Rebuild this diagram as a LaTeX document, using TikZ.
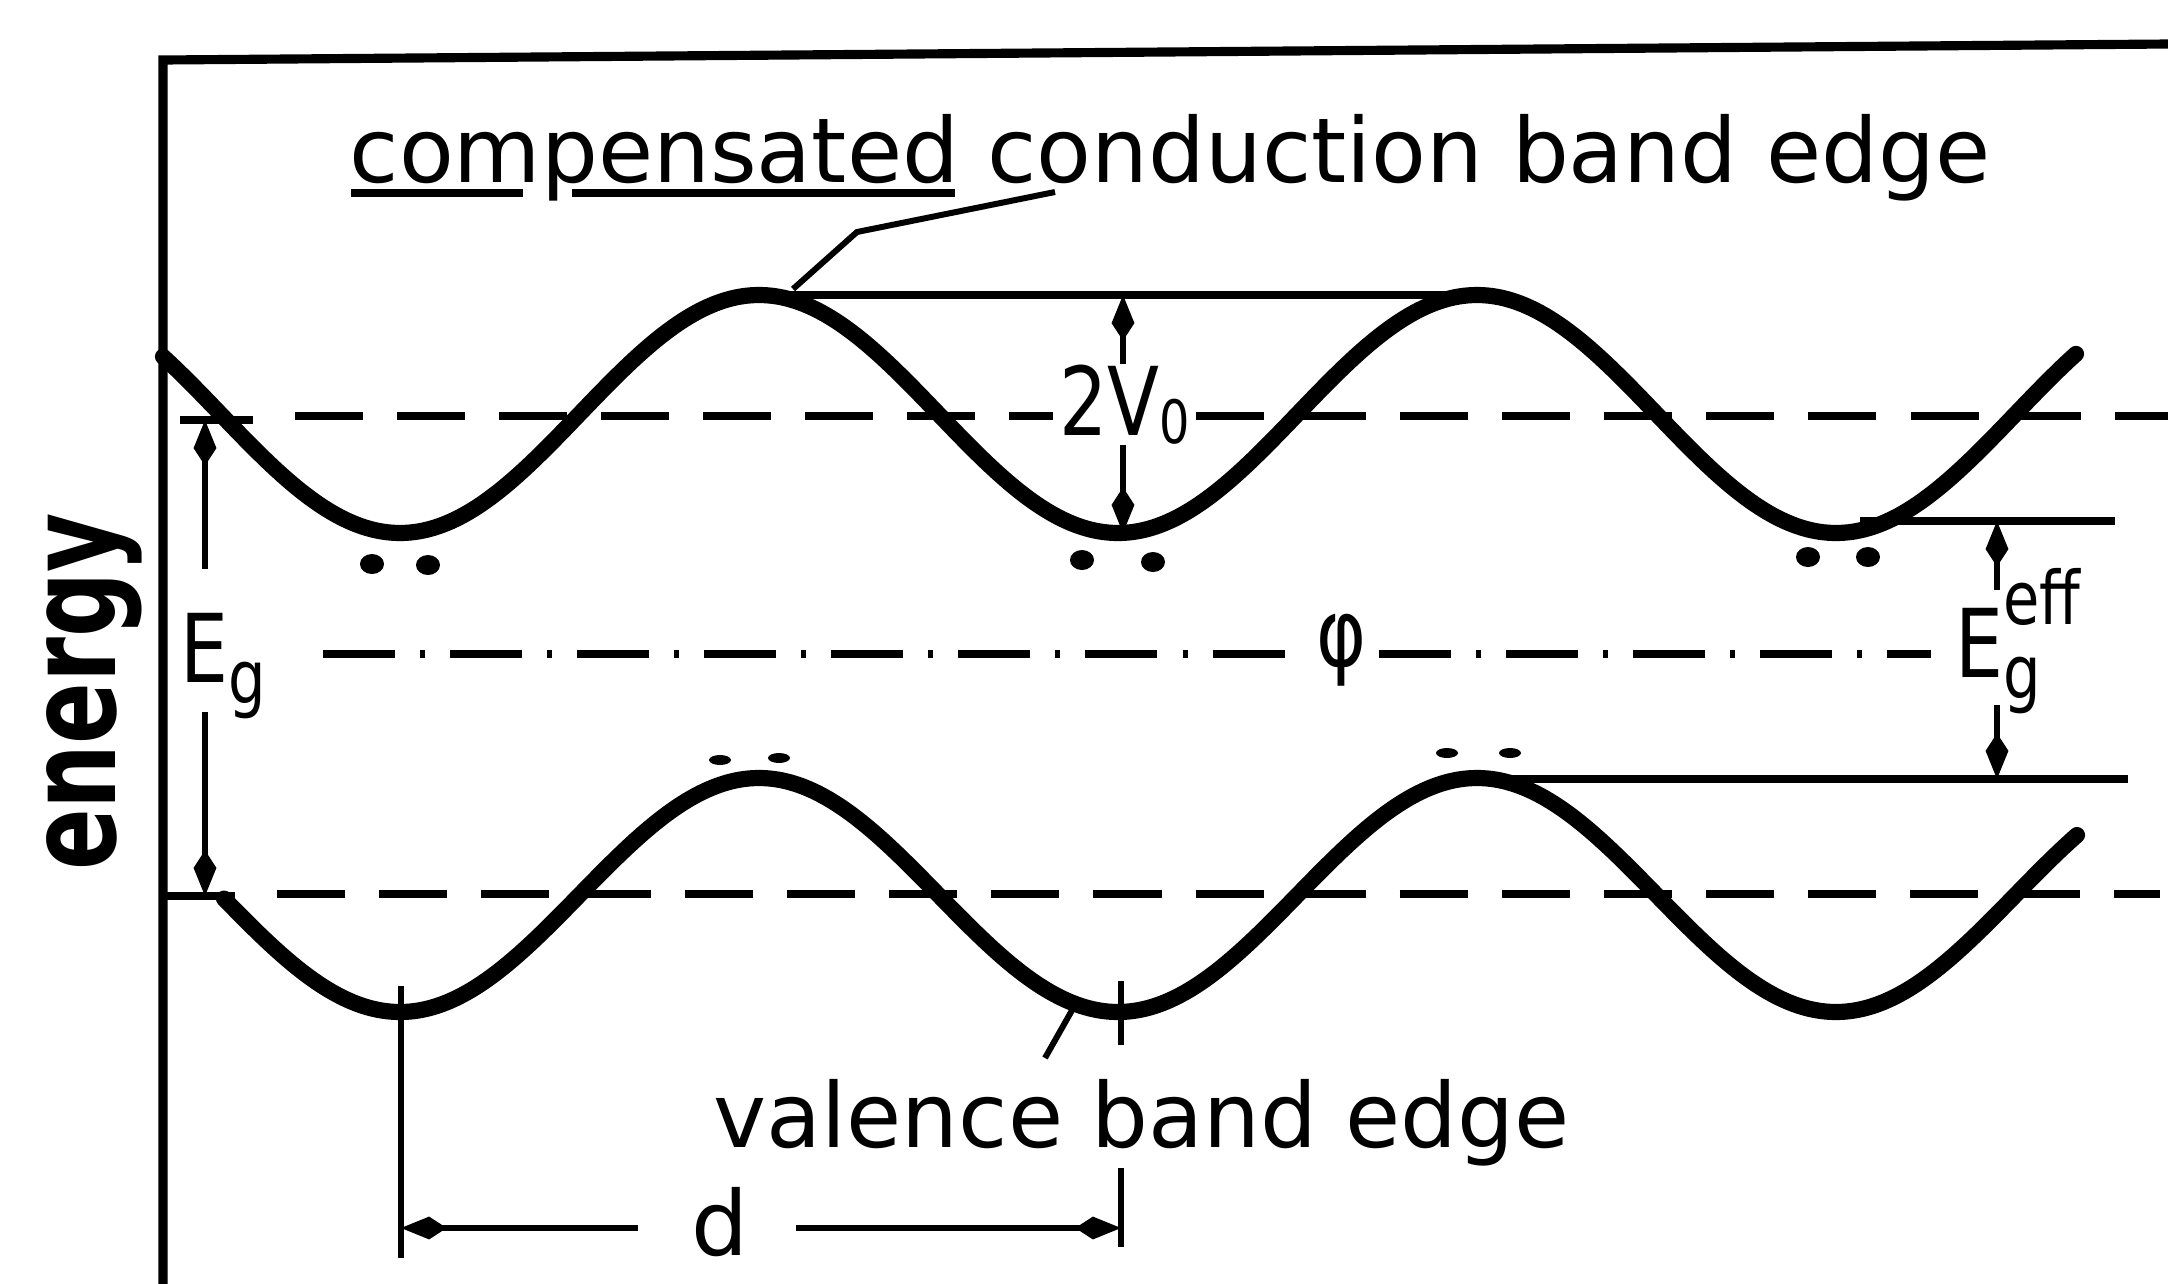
\documentclass[tikz,border=0pt]{standalone}
\usepackage{fontspec}
\setmainfont{DejaVu Sans}
\usepackage{tikz}
\usetikzlibrary{arrows.meta, calc}

\begin{document}
\begin{tikzpicture}[
  x=0.01cm, y=-0.01cm,
  frame/.style={line width=2.6pt},
  band/.style={line width=4.6pt, line cap=round},
  level/.style={line width=2.3pt},
  refline/.style={line width=2.5pt, dash pattern=on 0.68cm off 0.34cm},
  midline/.style={line width=2.3pt, dash pattern=on 0.72cm off 0.25cm on 0.05cm off 0.25cm},
  dim/.style={-{Kite[length=13pt, width=6.5pt, inset=5pt]}, line width=1.7pt},
  lead/.style={line width=1.7pt},
  lbl/.style={font=\fontsize{25.5pt}{30pt}\selectfont, inner sep=0pt},
  sym/.style={font=\fontsize{27pt}{32pt}\selectfont, inner sep=0pt, xscale=0.8},
  idx/.style={font=\fontsize{21pt}{22pt}\selectfont},
]
\useasboundingbox (0,0) rectangle (2168,1284);

% ── Frame ────────────────────────────────────────────────
\draw[frame] (163,1284) -- (163,60) -- (2168,44);
\node[font=\fontsize{35pt}{40pt}\selectfont\bfseries, rotate=90, xscale=0.74,
  anchor=base, inner sep=0pt] (axis) at (115,692) {energy};

% ── Band edges ───────────────────────────────────────────
\draw[band] plot[domain=163:2076, samples=240, smooth]
  (\x, {414+119*cos((\x-400)/718*360)});
\draw[band] plot[domain=224:2077, samples=240, smooth]
  (\x, {895+117*cos((\x-400)/718*360)});

% electrons and holes
\foreach \px/\py in {372/564, 428/565, 1082/560, 1153/562, 1808/557, 1868/557}
  \fill (\px,\py) ellipse [x radius=12, y radius=10];
\foreach \px/\py in {720/760, 779/758, 1447/753, 1510/753}
  \fill (\px,\py) ellipse [x radius=11, y radius=5];

% ── Labels ───────────────────────────────────────────────
\node[lbl, anchor=base west] (title) at (349,182)
  {compensated conduction band edge};
\node[lbl, anchor=base west] (vbe) at (713,1147) {valence band edge};
\node[sym, anchor=base west, inner xsep=2pt] (v0) at (1053,435)
  {2V\raisebox{-2.3pt}{\fontsize{17pt}{18pt}\selectfont 0}};
\node[sym, anchor=base west] (eg) at (180,682)
  {E\raisebox{-6pt}{\fontsize{21pt}{22pt}\selectfont g}};
\node[sym, anchor=base west] (geff) at (1955,677)
  {E\rlap{\raisebox{14.8pt}{\fontsize{21pt}{22pt}\selectfont eff}}%
   \raisebox{-6pt}{\fontsize{21pt}{22pt}\selectfont g}};
\node[sym, anchor=base, inner xsep=4pt] (phi) at (1342,666) {φ};
\node[lbl, anchor=base] (dlbl) at (720,1255) {d};

\draw[level] ($(title.base west)+(2,11)$) -- ++(172,0);
\draw[level] ($(title.base west)+(223,11)$) -- ++(383,0);

% ── Reference levels ─────────────────────────────────────
\coordinate (cbL) at (295,416);  \coordinate (cbR) at (2168,416);
\coordinate (vbL) at (277,894);  \coordinate (vbR) at (2160,894);
\coordinate (gapL) at (323,654); \coordinate (gapR) at (1931,654);

\draw[refline] (cbL) -- (v0.west |- cbL);
\draw[refline] (v0.east |- cbL) -- (cbR);
\draw[refline] (vbL) -- (vbR);
\draw[midline] (gapL) -- (phi.west |- gapL);
\draw[midline] (phi.east |- gapL) -- (gapR);

\coordinate (cmax1) at (759,295);  \coordinate (cmax2) at (1477,295);
\coordinate (cmin3) at (1860,521); \coordinate (cend) at (2115,521);
\coordinate (vmax2) at (1484,779); \coordinate (vend) at (2128,779);
\draw[level] (cmax1) -- (cmax2);
\draw[level] (cmin3) -- (cend);
\draw[level] (vmax2) -- (vend);

% ── E_g ──────────────────────────────────────────────────
\coordinate (egA) at (205,420); \coordinate (egB) at (205,896);
\coordinate (egU) at (205,569); \coordinate (egD) at (205,712);
\draw[level] (180,420) -- (253,420);
\draw[level] (163,896) -- (235,896);
\draw[dim] (egU) -- (egA);
\draw[dim] (egD) -- (egB);

% ── 2V_0 ─────────────────────────────────────────────────
\coordinate (vtop) at (1123,295); \coordinate (vbot) at (1123,533);
\draw[dim] (vtop |- v0.north) -- (vtop);
\draw[dim] (vbot |- v0.south) -- (vbot);

% ── E_g^eff ──────────────────────────────────────────────
\coordinate (effA) at (1997,521); \coordinate (effB) at (1997,779);
\coordinate (effU) at (1997,590); \coordinate (effD) at (1997,705);
\draw[dim] (effU) -- (effA);
\draw[dim] (effD) -- (effB);

% ── d ────────────────────────────────────────────────────
\coordinate (dL) at (401,1228);  \coordinate (dR) at (1121,1228);
\coordinate (dLa) at (638,1228); \coordinate (dRa) at (796,1228);
\draw[lead] (401,986) -- (dL) -- (401,1258);
\draw[lead] (1121,981) -- (1121,1045);
\draw[lead] (1121,1168) -- (dR) -- (1121,1247);
\draw[dim] (dLa) -- (dL);
\draw[dim] (dRa) -- (dR);

% ── Leaders ──────────────────────────────────────────────
\coordinate (ldA) at (1055,192); \coordinate (ldB) at (793,289);
\draw[lead] (ldA) -- (857,232) -- (ldB);
\coordinate (lvA) at (1045,1058); \coordinate (lvB) at (1075,1005);
\draw[lead] (lvA) -- (lvB);

\end{tikzpicture}
\end{document}
